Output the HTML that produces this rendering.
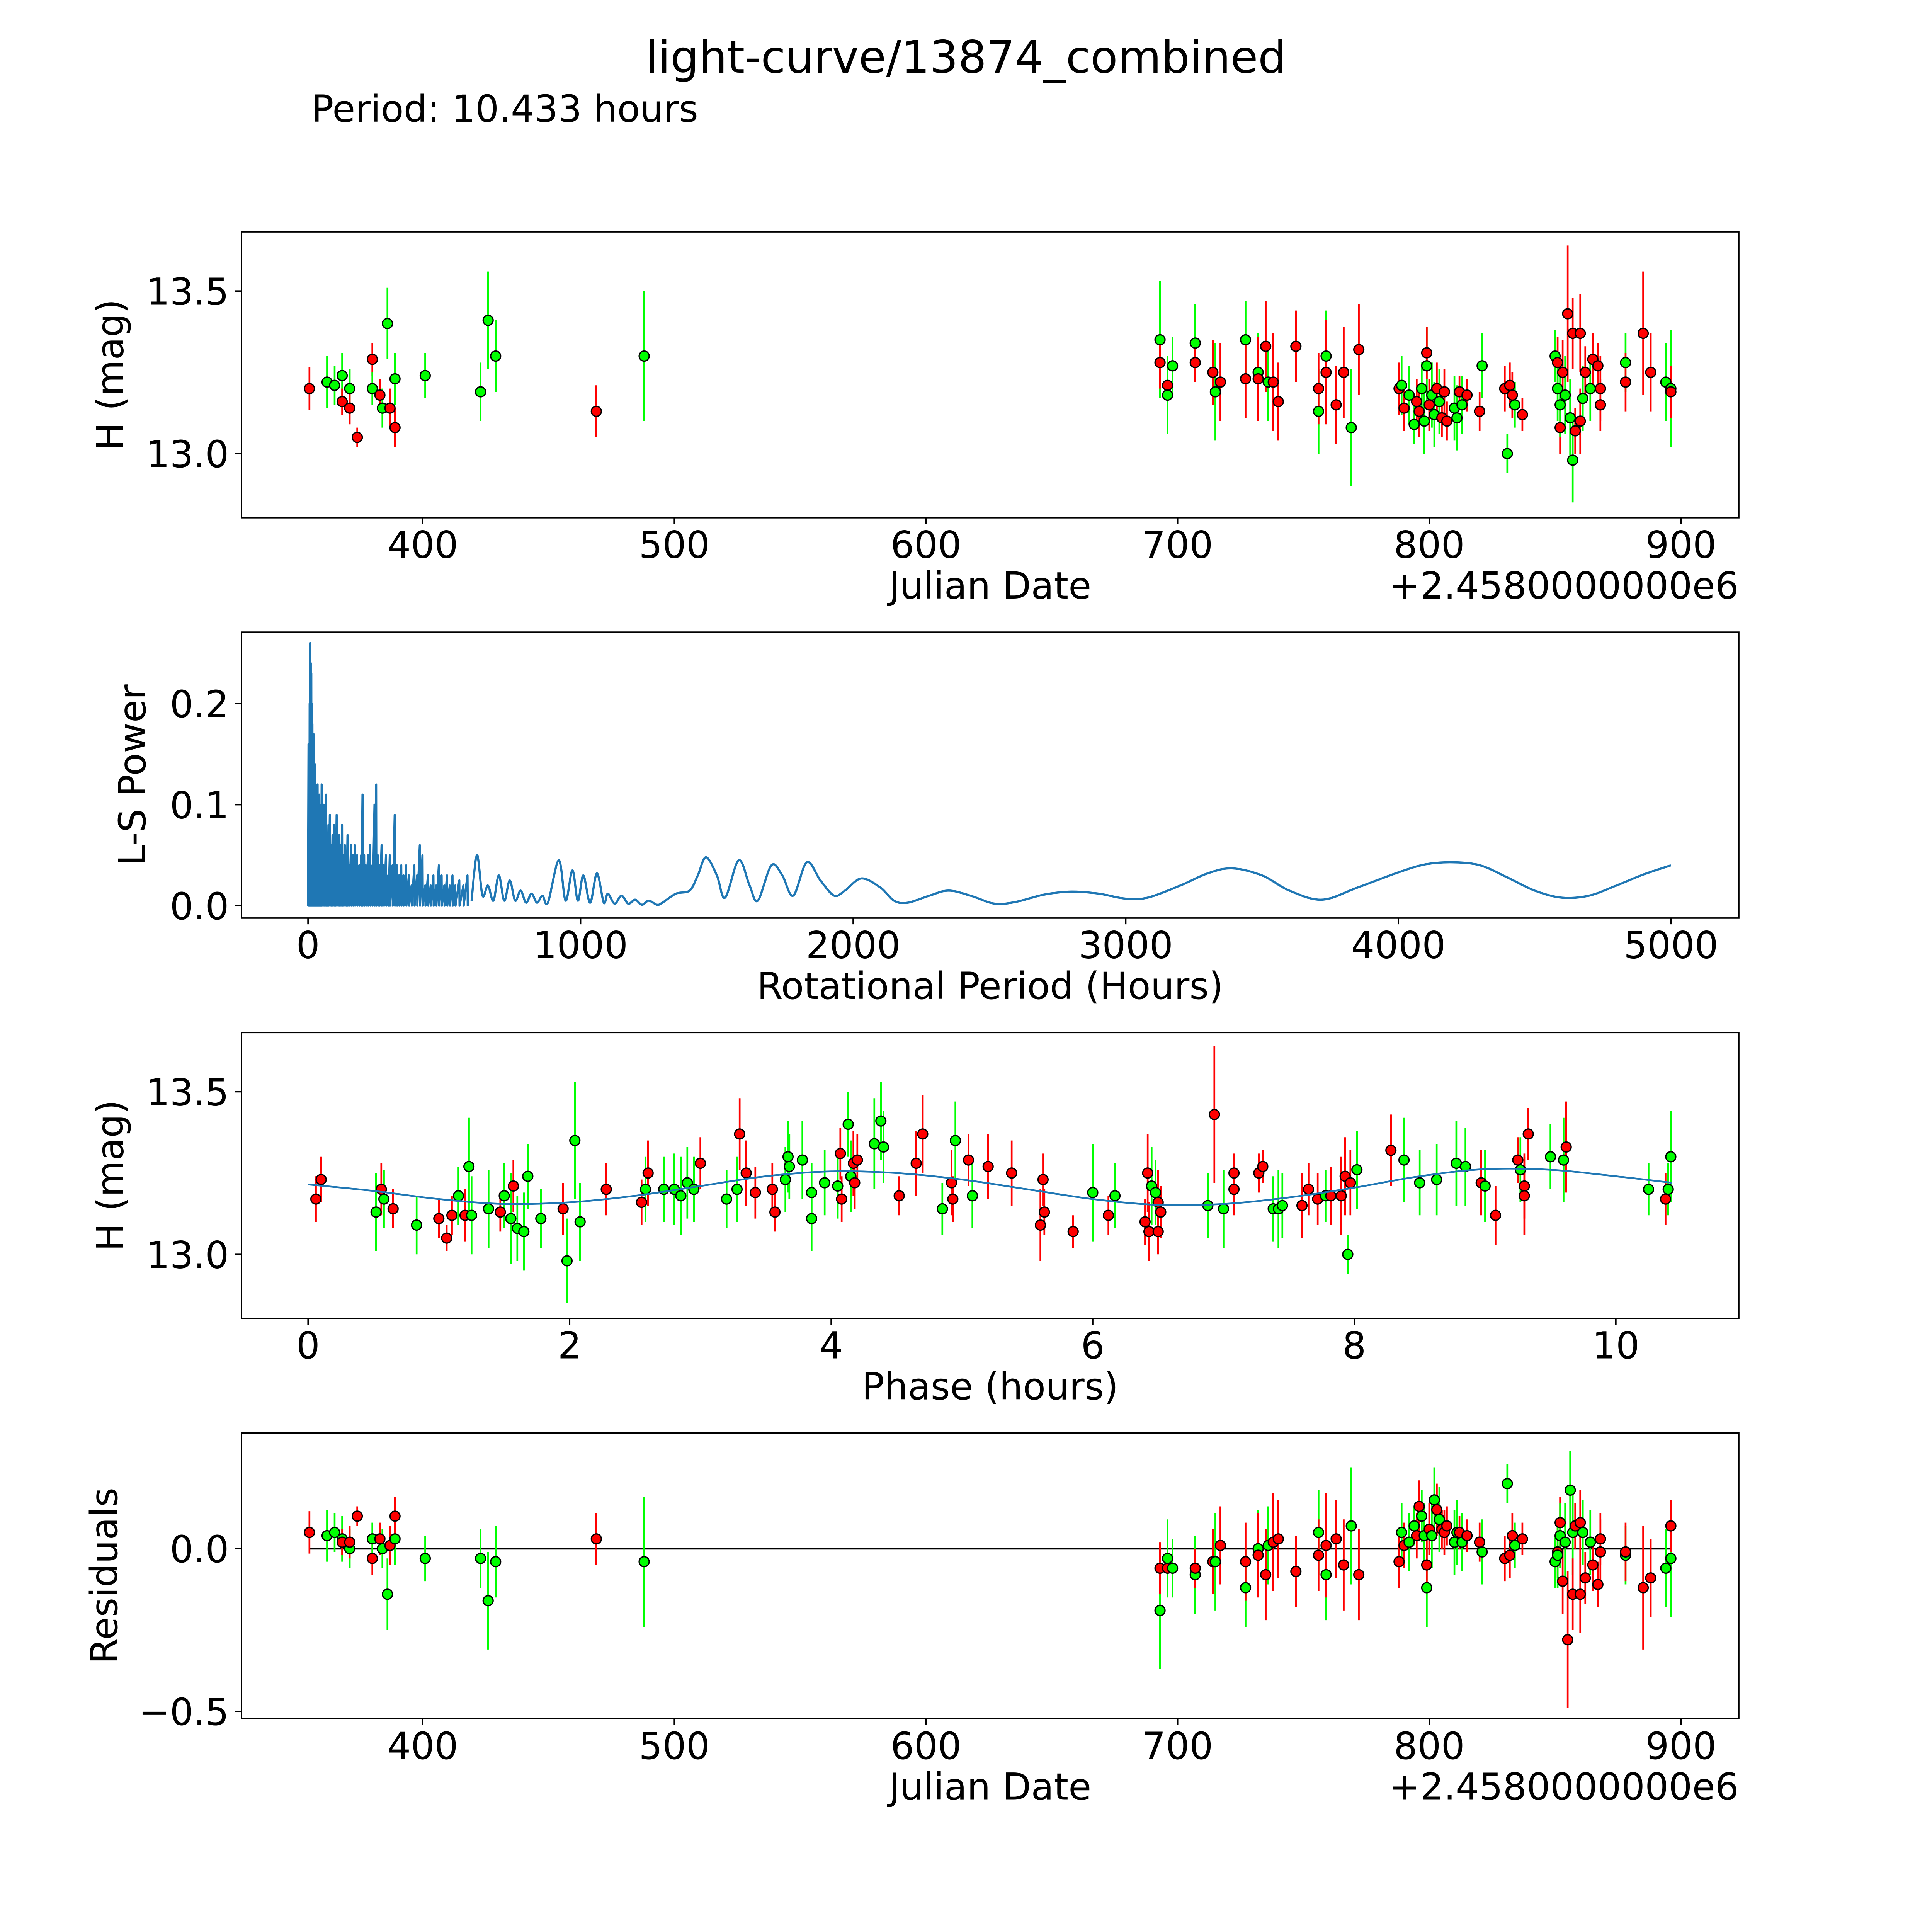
<!DOCTYPE html>
<html><head><meta charset="utf-8">
<style>
html,body{margin:0;padding:0;background:#fff;overflow:hidden;width:100%;height:100%;}
svg{display:block;width:100vw;height:100vh;font-family:"DejaVu Sans","Liberation Sans",sans-serif;}
</style></head>
<body>
<svg id="fig" viewBox="0 0 5400 5400" preserveAspectRatio="xMidYMid meet" xmlns="http://www.w3.org/2000/svg">
<rect width="5400" height="5400" fill="#fff"/>
<text x="2700" y="203" font-size="125" text-anchor="middle">light-curve/13874_combined</text>
<text x="870" y="340" font-size="104">Period: 10.433 hours</text>
<g id="p1"></g>
<g id="p2"></g>
<g id="p3"></g>
<g id="p4"></g>
</svg>
<script>
// ---- Panel 1 / 4 data: Julian date observations ----
const jd = [355,362,365,368,368,371,371,374,380,380,383,384,386,387,389,389,401,423,426,429,469,488,
693,693,696,696,698,707,707,714,715,717,727,727,732,732,735,736,738,740,747,756,756,759,759,763,766,769,772,
788,789,790,792,794,795,796,797,798,799,799,800,801,802,803,804,805,806,807,810,811,812,813,815,820,821,
830,831,832,833,834,837,850,851,851,852,852,853,854,855,856,857,857,858,860,860,861,862,864,865,867,868,868,878,878,885,888,894,896,896];
const mag = [13.20,13.22,13.21,13.24,13.16,13.20,13.14,13.05,13.29,13.20,13.18,13.14,13.40,13.14,13.23,13.08,13.24,13.19,13.41,13.30,13.13,13.30,
13.35,13.28,13.21,13.18,13.27,13.34,13.28,13.25,13.19,13.22,13.35,13.23,13.25,13.23,13.33,13.22,13.22,13.16,13.33,13.13,13.20,13.30,13.25,13.15,13.25,13.08,13.32,
13.20,13.21,13.14,13.18,13.09,13.16,13.13,13.20,13.10,13.27,13.31,13.15,13.18,13.12,13.20,13.16,13.11,13.19,13.10,13.14,13.11,13.19,13.15,13.18,13.13,13.27,
13.20,13.00,13.21,13.18,13.15,13.12,13.30,13.28,13.20,13.08,13.15,13.25,13.18,13.43,13.11,12.98,13.37,13.07,13.37,13.10,13.17,13.25,13.20,13.29,13.27,13.15,13.20,13.28,13.22,13.37,13.25,13.22,13.20,13.19];
const magErr = [.065,.08,.06,.07,.04,.06,.05,.03,.05,.05,.05,.06,.11,.06,.08,.06,.07,.09,.15,.11,.08,.20,
.18,.08,.07,.12,.09,.12,.06,.10,.15,.12,.12,.12,.12,.13,.14,.12,.15,.12,.11,.13,.11,.14,.16,.12,.14,.18,.14,
.08,.09,.07,.09,.06,.07,.08,.08,.10,.12,.08,.08,.10,.10,.08,.10,.06,.07,.06,.10,.10,.05,.09,.05,.06,.10,
.07,.06,.07,.07,.07,.05,.08,.08,.10,.08,.10,.10,.12,.21,.12,.13,.11,.07,.12,.10,.10,.08,.10,.08,.07,.08,.10,.09,.09,.19,.12,.12,.18,.08];
const band = ['r','g','g','g','r','g','r','r','r','g','r','g','g','r','g','r','g','g','g','g','r','g',
'g','r','r','g','g','g','r','r','g','r','g','r','g','r','r','g','r','r','r','g','r','g','r','r','r','g','r',
'r','g','r','g','g','r','r','g','g','g','r','r','g','g','r','g','r','r','r','g','g','r','g','r','r','g',
'r','g','r','r','g','r','g','r','g','r','g','r','g','r','g','g','r','r','r','r','g','r','g','r','r','r','r','g','r','r','r','g','g','r'];
const resid = [.05,.04,.05,.03,.02,0,.02,.10,-.03,.03,.03,0,-.14,.01,.03,.10,-.03,-.03,-.16,-.04,.03,-.04,
-.19,-.06,-.06,-.03,-.06,-.08,-.06,-.04,-.04,.01,-.12,-.04,0,-.02,-.08,.01,.02,.03,-.07,.05,-.02,-.08,.01,.03,-.05,.07,-.08,
-.04,.05,.01,.02,.07,.04,.13,.10,.04,-.12,-.05,.06,.04,.15,.12,.09,.06,.05,.07,.02,.05,.05,.02,.04,.02,-.01,
-.03,.20,-.02,.04,.01,.03,-.04,-.01,-.02,.08,.04,-.10,.02,-.28,.18,.05,-.14,.07,-.14,.08,.05,-.09,.02,-.05,-.11,.03,-.01,-.02,-.01,-.12,-.09,-.06,-.03,.07];
const jdTicks = [400,500,600,700,800,900];
const magTicks = [13.0,13.5];
const resTicks = [-0.5,0.0];
const resTickLabels = ['\u22120.5','0.0'];

// ---- Panel 2 data: Lomb-Scargle periodogram ----
const spikePeriod = [2,4,6,8,10,12,14,16,18,20,23,26,29,32,35,38,41,44,47,50,54,58,62,66,70,75,80,85,90,95,100,105,110,115,120,125,130,135,140,145,150,158,165,172,180,188,195,200,206,212,220,228,236,244,250,256,262,270,278,286,294,300,310,318,326,334,342,350,360,370,380,390,400,410,420,430,440,450,460,470,480,490,500,510,520,530,540,555,570,585];
const spikePower = [.16,.12,.2,.26,.24,.23,.2,.18,.15,.17,.13,.14,.12,.11,.12,.1,.11,.09,.1,.12,.08,.1,.09,.11,.07,.08,.09,.06,.07,.08,.06,.09,.05,.07,.06,.08,.05,.06,.05,.07,.04,.06,.05,.06,.05,.04,.05,.11,.05,.04,.05,.06,.04,.1,.12,.05,.04,.06,.04,.05,.03,.05,.04,.09,.04,.03,.04,.03,.04,.03,.02,.04,.03,.06,.05,.02,.03,.02,.03,.02,.04,.03,.02,.03,.02,.03,.02,.025,.02,.03];
const smoothPeriod = [600,620,640,660,680,700,720,740,760,780,800,820,840,860,880,920,945,970,990,1010,1035,1060,1085,1100,1125,1150,1175,1200,1225,1250,1280,1300,1350,1400,1430,1460,1500,1530,1580,1620,1650,1700,1740,1780,1830,1880,1930,1970,2030,2100,2150,2200,2280,2350,2430,2520,2600,2700,2800,2900,3000,3080,3200,3300,3390,3500,3600,3720,3850,4000,4100,4200,4300,4400,4500,4600,4700,4800,4900,5000];
const smoothPower = [.005,.05,.01,.02,.005,.03,.005,.025,.005,.015,.003,.012,.003,.01,.003,.045,.005,.035,.005,.03,.003,.032,.003,.012,.002,.01,.002,.006,.001,.005,.001,.003,.012,.015,.03,.048,.03,.008,.045,.02,.005,.04,.03,.01,.043,.025,.01,.015,.027,.018,.005,.003,.01,.015,.01,.002,.004,.011,.014,.012,.007,.008,.02,.032,.037,.03,.015,.006,.018,.033,.041,.043,.04,.028,.015,.008,.01,.02,.031,.04];
const periodTicks = [0,1000,2000,3000,4000,5000];
const powerTicks = [0.0,0.1,0.2];

// ---- Panel 3 data: phase-folded ----
const phase = [0.06,0.1,0.52,0.56,0.58,0.65,0.83,1.0,1.06,1.1,1.15,1.2,1.23,1.25,1.38,1.47,1.5,1.55,1.57,1.6,1.65,1.68,1.78,1.95,1.98,2.04,2.08,2.28,2.55,2.58,2.6,2.72,2.8,2.85,2.9,2.95,3.0,3.2,3.28,3.3,3.35,3.42,3.55,3.57,3.65,3.67,3.68,3.78,3.85,3.85,3.95,4.05,4.07,4.08,4.13,4.15,4.17,4.2,4.18,4.33,4.38,4.4,4.52,4.65,4.7,4.85,4.92,4.93,4.95,5.05,5.08,5.2,5.38,5.6,5.62,5.63,5.85,6.0,6.12,6.17,6.4,6.42,6.43,6.45,6.48,6.5,6.5,6.52,6.88,6.93,7.0,7.08,7.08,7.27,7.3,7.38,7.42,7.45,7.6,7.65,7.72,7.78,7.82,7.9,7.93,7.95,7.97,8.02,8.28,8.38,8.5,8.63,8.78,8.85,8.97,9.0,9.08,9.25,9.27,9.3,9.3,9.33,9.5,9.6,9.62,10.25,10.38,10.4,10.42];
const phMag = [13.17,13.23,13.13,13.20,13.17,13.14,13.09,13.11,13.05,13.12,13.18,13.12,13.27,13.12,13.14,13.13,13.18,13.11,13.21,13.08,13.07,13.24,13.11,13.14,12.98,13.35,13.10,13.20,13.16,13.20,13.25,13.20,13.20,13.18,13.22,13.20,13.28,13.17,13.20,13.37,13.25,13.19,13.20,13.13,13.23,13.30,13.27,13.29,13.11,13.19,13.22,13.21,13.31,13.17,13.40,13.24,13.28,13.29,13.22,13.34,13.41,13.33,13.18,13.28,13.37,13.14,13.22,13.17,13.35,13.29,13.18,13.27,13.25,13.09,13.23,13.13,13.07,13.19,13.12,13.18,13.10,13.25,13.07,13.21,13.19,13.16,13.07,13.13,13.15,13.43,13.14,13.25,13.20,13.25,13.27,13.14,13.14,13.15,13.15,13.20,13.17,13.18,13.18,13.18,13.24,13.00,13.22,13.26,13.32,13.29,13.22,13.23,13.28,13.27,13.22,13.21,13.12,13.29,13.26,13.21,13.18,13.37,13.30,13.29,13.33,13.20,13.17,13.20,13.30];
const phErr = [.07,.07,.12,.08,.09,.06,.09,.06,.04,.06,.09,.08,.15,.12,.12,.06,.10,.14,.08,.10,.12,.10,.09,.08,.13,.18,.12,.08,.07,.10,.10,.10,.11,.12,.11,.10,.08,.09,.10,.11,.10,.08,.08,.06,.10,.11,.10,.12,.10,.09,.10,.10,.08,.07,.10,.11,.10,.08,.08,.14,.12,.11,.06,.10,.12,.08,.10,.07,.12,.08,.10,.10,.10,.11,.08,.07,.05,.15,.06,.10,.07,.12,.09,.12,.10,.10,.07,.08,.10,.21,.12,.06,.08,.06,.05,.10,.12,.10,.10,.08,.08,.08,.09,.12,.12,.06,.10,.12,.11,.13,.10,.11,.13,.12,.10,.11,.09,.07,.10,.10,.12,.08,.10,.13,.14,.08,.08,.08,.14];
const phBand = ['r','r','g','r','g','r','g','r','r','r','g','r','g','g','g','r','g','g','r','g','g','g','g','r','g','g','g','r','r','g','r','g','g','g','g','g','r','g','g','r','r','r','r','r','g','g','g','g','g','g','g','g','r','r','g','g','r','r','r','g','g','g','r','r','r','g','r','r','g','r','g','r','r','r','r','r','r','g','r','g','r','r','r','g','g','r','r','r','g','r','g','r','r','r','r','g','g','g','r','r','r','g','r','r','r','g','r','g','r','g','g','g','g','g','r','g','r','r','g','r','r','r','g','g','r','g','r','g','g'];
const modelPhase = [0,0.5,1,1.5,2,2.5,3,3.5,4,4.5,5,5.5,6,6.5,7,7.5,8,8.5,9,9.5,10,10.43];
const modelMag = [13.215,13.195,13.17,13.155,13.16,13.18,13.21,13.24,13.255,13.25,13.23,13.2,13.17,13.152,13.155,13.175,13.205,13.24,13.262,13.26,13.24,13.22];
const phaseTicks = [0,2,4,6,8,10];

const NS='http://www.w3.org/2000/svg';
const L=675, R=4860, H=799;
const FS=104;
const COL={r:'#ff0000', g:'#00ff00'};
function el(parent, tag, attrs){const e=document.createElementNS(NS,tag);for(const k in attrs)e.setAttribute(k,attrs[k]);parent.appendChild(e);return e;}
function axes(g, top, xmin, xmax, ymin, ymax){
  const sx=v=>L+(v-xmin)/(xmax-xmin)*(R-L);
  const sy=v=>top+H-(v-ymin)/(ymax-ymin)*H;
  return {sx,sy,top,bottom:top+H};
}
function frame(g, ax, xt, xtl, yt, ytl, xlabel, ylabel, ylabX){
  const f=el(g,'rect',{x:L,y:ax.top,width:R-L,height:H,fill:'none',stroke:'#000','stroke-width':4});
  
  
  xt.forEach((v,i)=>{
    const x=ax.sx(v);
    const t=el(g,'line',{x1:x,x2:x,y1:ax.bottom,y2:ax.bottom+17.5,stroke:'#000','stroke-width':4});
    
    
    const tl=el(g,'text',{x:x,y:ax.bottom+112,'font-size':FS,'text-anchor':'middle'});
    tl.textContent=xtl[i];
    
    
  });
  yt.forEach((v,i)=>{
    const y=ax.sy(v);
    const t=el(g,'line',{x1:L-17.5,x2:L,y1:y,y2:y,stroke:'#000','stroke-width':4});
    
    
    const tl=el(g,'text',{x:L-35,y:y+38,'font-size':FS,'text-anchor':'end'});
    tl.textContent=ytl[i];
    
    
  });
  const xl=el(g,'text',{x:(L+R)/2,y:ax.bottom+226,'font-size':FS,'text-anchor':'middle'});
  xl.textContent=xlabel;
  
  
  const yl=el(g,'text',{x:0,y:0,'font-size':FS,'text-anchor':'middle',transform:`translate(${ylabX},${ax.top+H/2}) rotate(-90)`});
  yl.textContent=ylabel;
  
  
}
function points(g, ax, xs, ys, es, cs){
  for(let i=0;i<xs.length;i++){
    const x=ax.sx(xs[i]);
    const b=el(g,'line',{x1:x,x2:x,y1:ax.sy(ys[i]-es[i]),y2:ax.sy(ys[i]+es[i]),stroke:COL[cs[i]],'stroke-width':5});
    
    
  }
  for(let i=0;i<xs.length;i++){
    const c=el(g,'circle',{cx:ax.sx(xs[i]),cy:ax.sy(ys[i]),r:14,fill:COL[cs[i]],stroke:'#000','stroke-width':3.5});
    
    
  }
}
function offsetText(g, ax){
  const o=el(g,'text',{x:R,y:ax.bottom+226,'font-size':FS,'text-anchor':'end'});
  o.textContent='+2.4580000000e6';
  
  
}
function smoothPath(pts){
  let d=`M${pts[0][0]},${pts[0][1]}`;
  for(let i=0;i<pts.length-1;i++){
    const p0=pts[Math.max(0,i-1)],p1=pts[i],p2=pts[i+1],p3=pts[Math.min(pts.length-1,i+2)];
    const c1=[p1[0]+(p2[0]-p0[0])/6,p1[1]+(p2[1]-p0[1])/6];
    const c2=[p2[0]-(p3[0]-p1[0])/6,p2[1]-(p3[1]-p1[1])/6];
    d+=` C${c1[0]},${c1[1]} ${c2[0]},${c2[1]} ${p2[0]},${p2[1]}`;
  }
  return d;
}
const jdMin=328, jdMax=923;
// Panel 1
{
  const g=document.getElementById('p1');
  const ax=axes(g,648,jdMin,jdMax,12.803,13.682);
  points(g,ax,jd,mag,magErr,band);
  frame(g,ax,jdTicks,jdTicks.map(String),magTicks,magTicks.map(v=>v.toFixed(1)),'Julian Date','H (mag)',344);
  offsetText(g,ax);
}
// Panel 2
{
  const g=document.getElementById('p2');
  const ax=axes(g,1767,-244,5249,-0.0122,0.2707);
  let d=`M${ax.sx(0)},${ax.sy(0)}`;
  for(let i=0;i<spikePeriod.length;i++){
    d+=` L${ax.sx(spikePeriod[i])},${ax.sy(spikePower[i])} L${ax.sx(spikePeriod[i]+1)},${ax.sy(0)}`;
  }
  const sp=el(g,'path',{d:d,fill:'none',stroke:'#1f77b4','stroke-width':6,'stroke-linejoin':'round'});
  
  
  const pts=smoothPeriod.map((p,i)=>[ax.sx(p),ax.sy(smoothPower[i])]);
  const ln=el(g,'path',{d:smoothPath(pts),fill:'none',stroke:'#1f77b4','stroke-width':6});
  
  
  frame(g,ax,periodTicks,periodTicks.map(String),powerTicks,powerTicks.map(v=>v.toFixed(1)),'Rotational Period (Hours)','L-S Power',406);
}
// Panel 3
{
  const g=document.getElementById('p3');
  const ax=axes(g,2886,-0.509,10.94,12.803,13.682);
  points(g,ax,phase,phMag,phErr,phBand);
  const pts=modelPhase.map((p,i)=>[ax.sx(p),ax.sy(modelMag[i])]);
  const m=el(g,'path',{d:smoothPath(pts),fill:'none',stroke:'#1f77b4','stroke-width':5});
  
  
  frame(g,ax,phaseTicks,phaseTicks.map(String),magTicks,magTicks.map(v=>v.toFixed(1)),'Phase (hours)','H (mag)',344);
}
// Panel 4
{
  const g=document.getElementById('p4');
  const ax=axes(g,4005,jdMin,jdMax,-0.523,0.356);
  const z=el(g,'line',{x1:ax.sx(jd[0]),x2:ax.sx(jd[jd.length-1]),y1:ax.sy(0),y2:ax.sy(0),stroke:'#000','stroke-width':5});
  
  
  points(g,ax,jd,resid,magErr,band);
  frame(g,ax,jdTicks,jdTicks.map(String),resTicks,resTickLabels,'Julian Date','Residuals',327);
  offsetText(g,ax);
}
</script>
</body></html>
